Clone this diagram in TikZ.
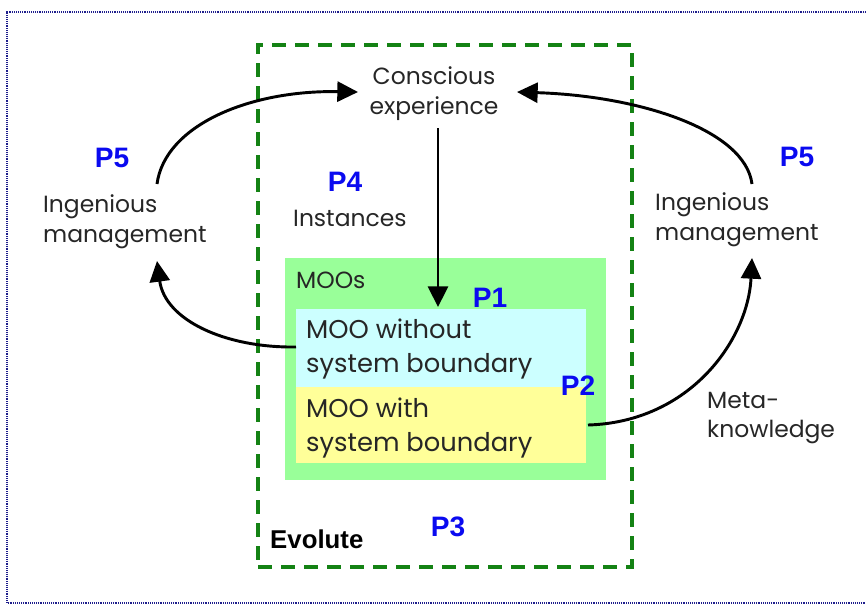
\documentclass[tikz,border=0pt]{standalone}
\usepackage{fontspec}
\setmainfont{Poppins}
\newfontfamily\plab{Liberation Sans}
\usetikzlibrary{arrows.meta}
\definecolor{framblue}{RGB}{30,30,140}
\definecolor{dgreen}{RGB}{20,130,20}
\definecolor{lgreen}{RGB}{153,255,153}
\definecolor{lcyan}{RGB}{204,255,255}
\definecolor{lyellow}{RGB}{255,255,153}
\definecolor{pblue}{RGB}{10,10,240}
\tikzset{
  txt/.style={font=\fontsize{20}{25.5}\selectfont, text=black!85, inner sep=0pt},
  plabel/.style={font=\plab\bfseries\fontsize{24}{26}\selectfont, text=pblue, inner sep=0pt},
  conn/.style={line width=2.5pt, -{Triangle[length=0.62cm,width=0.6cm]}}
}
\begin{document}
\begin{tikzpicture}[x=0.03cm,y=-0.03cm]
\useasboundingbox (0,0) rectangle (866,604);
% outer frame
\draw[framblue, line width=1.6pt, dash pattern=on 0.8pt off 0.8pt] (868,12) -- (7,12) -- (7,603) -- (868,603);
% boxes
\fill[lgreen] (285,258) rectangle (606,480);
\fill[lcyan] (296,309) rectangle (586,387);
\fill[lyellow] (296,387) rectangle (586,463);
\node[draw=dgreen, line width=3pt, dash pattern=on 0.42cm off 0.27cm, minimum width=374*0.03cm, minimum height=522*0.03cm, inner sep=0pt] (evo) at (445,306) {};
% texts
\node[txt, align=center] (ce) at (434,94) {Conscious\\experience};
\node[txt, align=left, anchor=west] (iml) at (43,222) {Ingenious\\management};
\node[txt, align=left, anchor=west] (imr) at (655,220) {Ingenious\\management};
\node[txt, align=left, anchor=west] (meta) at (707,418) {Meta-\\knowledge};
\node[txt, anchor=west] (inst) at (293,218) {Instances};
\node[txt, anchor=west] (moos) at (296,280) {MOOs};
\node[txt, align=left, anchor=west, font=\fontsize{22}{29}\selectfont] (mwo) at (306,349) {MOO without\\system boundary};
\node[txt, align=left, anchor=west, font=\fontsize{22}{29}\selectfont] (mw) at (306,428) {MOO with\\system boundary};
\node[inner sep=0pt, anchor=west, font=\plab\bfseries\fontsize{22}{24}\selectfont] (evl) at (270,539) {Evolute};
% P labels
\node[plabel] (p1) at (490,298) {P1};
\node[plabel] (p2) at (578,386) {P2};
\node[plabel] (p3) at (448,527) {P3};
\node[plabel] (p4) at (345,182) {P4};
\node[plabel] (p5l) at (112,158) {P5};
\node[plabel] (p5r) at (797,157) {P5};
% connector end points
\coordinate (cein) at (438,128);
\coordinate (ceL) at (358,92);
\coordinate (ceR) at (517,92);
\coordinate (imlT) at (157,184);
\coordinate (imlB) at (157,261);
\coordinate (imrT) at (752,184);
\coordinate (imrB) at (752,258);
\coordinate (mwoL) at (296,347);
\coordinate (mwR) at (588,425);
\coordinate (mwoT) at (438,307);
% connectors
\draw[conn] (cein) -- (mwoT);
\draw[conn] (imlT) .. controls (165,125) and (250,90) .. (ceL);
\draw[conn] (mwoL) .. controls (225,348) and (165,320) .. (imlB);
\draw[conn] (imrT) .. controls (745,130) and (640,96) .. (ceR);
\draw[conn] (mwR) .. controls (690,422) and (748,340) .. (imrB);
\end{tikzpicture}
\end{document}
